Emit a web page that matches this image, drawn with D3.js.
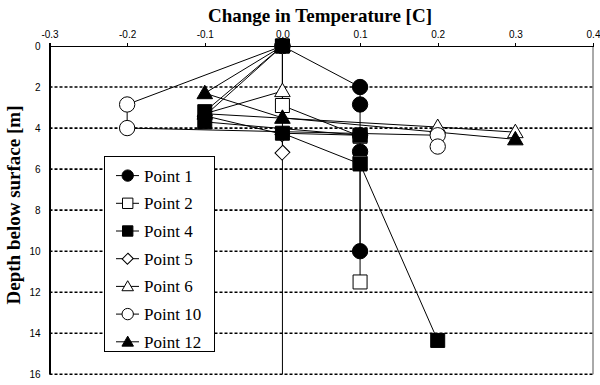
<!DOCTYPE html>
<html lang="en">
<head>
<meta charset="utf-8">
<title>Change in Temperature vs depth</title>
<script src="https://d3js.org/d3.v7.min.js"></script>
<style>
  body { margin: 0; background: #fff; }
  .axis text { font-family: "Liberation Sans", Arial, sans-serif; font-size: 10px; fill: #000; }
  .axis path, .axis line { stroke: #000; shape-rendering: crispEdges; }
  .title { font-family: "Liberation Serif", "Times New Roman", serif; font-weight: bold; font-size: 19px; }
  .legend text { font-family: "Liberation Serif", "Times New Roman", serif; font-size: 17px; }
</style>
</head>
<body>
<div id="chart"></div>
<script>
// tick values
var tempTicks = [-0.3, -0.2, -0.1, 0.0, 0.1, 0.2, 0.3, 0.4]
var depthTicks = [0, 2, 4, 6, 8, 10, 12, 14, 16]

// series names
var names = ["Point 1", "Point 2", "Point 4", "Point 5", "Point 6", "Point 10", "Point 12"]

// temperature change [C] and depth [m] for every series
var p1Temp  = [0, 0.1, 0.1, 0.1, 0.1, 0.1]
var p1Depth = [0, 2.0, 2.85, 4.35, 5.15, 10.0]
var p2Temp  = [0, 0, 0.1, 0.1, 0.1]
var p2Depth = [0, 2.9, 4.4, 5.7, 11.5]
var p4Temp  = [0, -0.1, -0.1, 0.1, 0, 0.1, 0.2]
var p4Depth = [0, 3.2, 3.7, 4.35, 4.25, 5.75, 14.35]
var p5Temp  = [0, -0.1, 0, 0]
var p5Depth = [0, 3.4, 4.3, 5.2]
var p6Temp  = [0, 0, -0.1, 0.2, 0.3]
var p6Depth = [0, 2.2, 3.3, 3.95, 4.2]
var p10Temp  = [0, -0.2, -0.2, 0.2, 0.2]
var p10Depth = [0, 2.85, 4.0, 4.35, 4.9]
var p12Temp  = [0, -0.1, 0, 0.3]
var p12Depth = [0, 2.3, 3.5, 4.55]

var temps = [p1Temp, p2Temp, p4Temp, p5Temp, p6Temp, p10Temp, p12Temp]
var depths = [p1Depth, p2Depth, p4Depth, p5Depth, p6Depth, p10Depth, p12Depth]

// marker style per series
var shapes = ["circle", "square", "square", "diamond", "triangle", "circle", "triangle"]
var filled = [true, false, true, false, false, false, true]

var w = 600, h = 385

var svg = d3.select("#chart").append("svg")
    .attr("width", w)
    .attr("height", h)

var xScale = d3.scaleLinear().domain([-0.3, 0.4]).range([49.5, 593])
var yScale = d3.scaleLinear().domain([0, 16]).range([46, 374.3])

// dotted gridlines
svg.append("g").selectAll("line")
    .data(depthTicks.filter(function(d) { return d > 0 }))
    .enter().append("line")
    .attr("x1", xScale(-0.3)).attr("x2", xScale(0.4))
    .attr("y1", function(d) { return yScale(d) })
    .attr("y2", function(d) { return yScale(d) })
    .attr("stroke", "#000")
    .attr("stroke-width", 1.6)
    .attr("stroke-dasharray", "3,2")

// right border
svg.append("line")
    .attr("x1", xScale(0.4)).attr("x2", xScale(0.4))
    .attr("y1", yScale(0)).attr("y2", yScale(16))
    .attr("stroke", "#555")

// zero line
svg.append("line")
    .attr("x1", xScale(0)).attr("x2", xScale(0))
    .attr("y1", yScale(0)).attr("y2", yScale(16))
    .attr("stroke", "#000")

// axes
var xAxis = d3.axisTop(xScale)
    .tickValues(tempTicks)
    .tickFormat(function(d) { return d.toFixed(1) })
    .tickSize(3)
    .tickSizeOuter(0)
    .tickPadding(5)
svg.append("g")
    .attr("class", "axis")
    .attr("transform", "translate(0," + yScale(0) + ")")
    .call(xAxis)
    .select(".domain").attr("stroke-width", 1.5)

var yAxis = d3.axisLeft(yScale)
    .tickValues(depthTicks)
    .tickSize(0)
    .tickPadding(9)
svg.append("g")
    .attr("class", "axis")
    .attr("transform", "translate(" + xScale(-0.3) + ",0)")
    .call(yAxis)

svg.append("line")
    .attr("x1", xScale(-0.3)).attr("x2", xScale(-0.3))
    .attr("y1", yScale(0) - 3).attr("y2", yScale(16))
    .attr("stroke", "#000")

// titles
svg.append("text")
    .attr("class", "title")
    .attr("x", 320).attr("y", 22)
    .attr("text-anchor", "middle")
    .text("Change in Temperature [C]")

svg.append("text")
    .attr("class", "title")
    .attr("transform", "translate(20,205) rotate(-90)")
    .attr("text-anchor", "middle")
    .text("Depth below surface [m]")

function symbolPath(shape, big) {
    var s = big ? 1 : 0.55
    if (shape === "circle") return d3.symbol(d3.symbolCircle, 185 * s)()
    if (shape === "square") return d3.symbol(d3.symbolSquare, 196 * s)()
    if (shape === "diamond") return d3.symbol(d3.symbolSquare, 100 * s)()
    return d3.symbol(d3.symbolTriangle, 105 * s)()
}

function markerTransform(shape, x, y) {
    if (shape === "diamond") return "translate(" + x + "," + y + ") rotate(45) scale(1,1.1)"
    if (shape === "triangle") return "translate(" + x + "," + (y + 1) + ")"
    return "translate(" + x + "," + y + ")"
}

var line = d3.line()
    .x(function(d) { return xScale(d[0]) })
    .y(function(d) { return yScale(d[1]) })

var series = names.map(function(n, i) {
    return { name: n, pts: d3.zip(temps[i], depths[i]), shape: shapes[i], filled: filled[i] }
})

// lines
svg.append("g").selectAll("path")
    .data(series)
    .enter().append("path")
    .attr("d", function(d) { return line(d.pts) })
    .attr("fill", "none")
    .attr("stroke", "#000")
    .attr("stroke-width", 1)

// markers, the filled squares last
var drawOrder = [0, 1, 3, 4, 5, 6, 2]
drawOrder.forEach(function(i) {
    var s = series[i]
    svg.append("g").selectAll("path")
        .data(s.pts)
        .enter().append("path")
        .attr("d", symbolPath(s.shape, true))
        .attr("transform", function(d) { return markerTransform(s.shape, xScale(d[0]), yScale(d[1])) })
        .attr("fill", s.filled ? "#000" : "#fff")
        .attr("stroke", "#000")
        .attr("stroke-width", 1)
})

// legend
var legend = svg.append("g").attr("class", "legend")
legend.append("rect")
    .attr("x", 104.5).attr("y", 156.5)
    .attr("width", 110).attr("height", 195)
    .attr("fill", "#fff")
    .attr("stroke", "#000")

var item = legend.selectAll("g.item")
    .data(series)
    .enter().append("g")
    .attr("class", "item")
    .attr("transform", function(d, i) { return "translate(0," + (175.6 + i * 27.7) + ")" })

item.append("line")
    .attr("x1", 116).attr("x2", 139)
    .attr("stroke", "#000")
item.append("path")
    .attr("d", function(d) { return symbolPath(d.shape, false) })
    .attr("transform", function(d) { return markerTransform(d.shape, 127.7, 0) })
    .attr("fill", function(d) { return d.filled ? "#000" : "#fff" })
    .attr("stroke", "#000")
item.append("text")
    .attr("x", 144).attr("y", 6)
    .text(function(d) { return d.name })
</script>
</body>
</html>
